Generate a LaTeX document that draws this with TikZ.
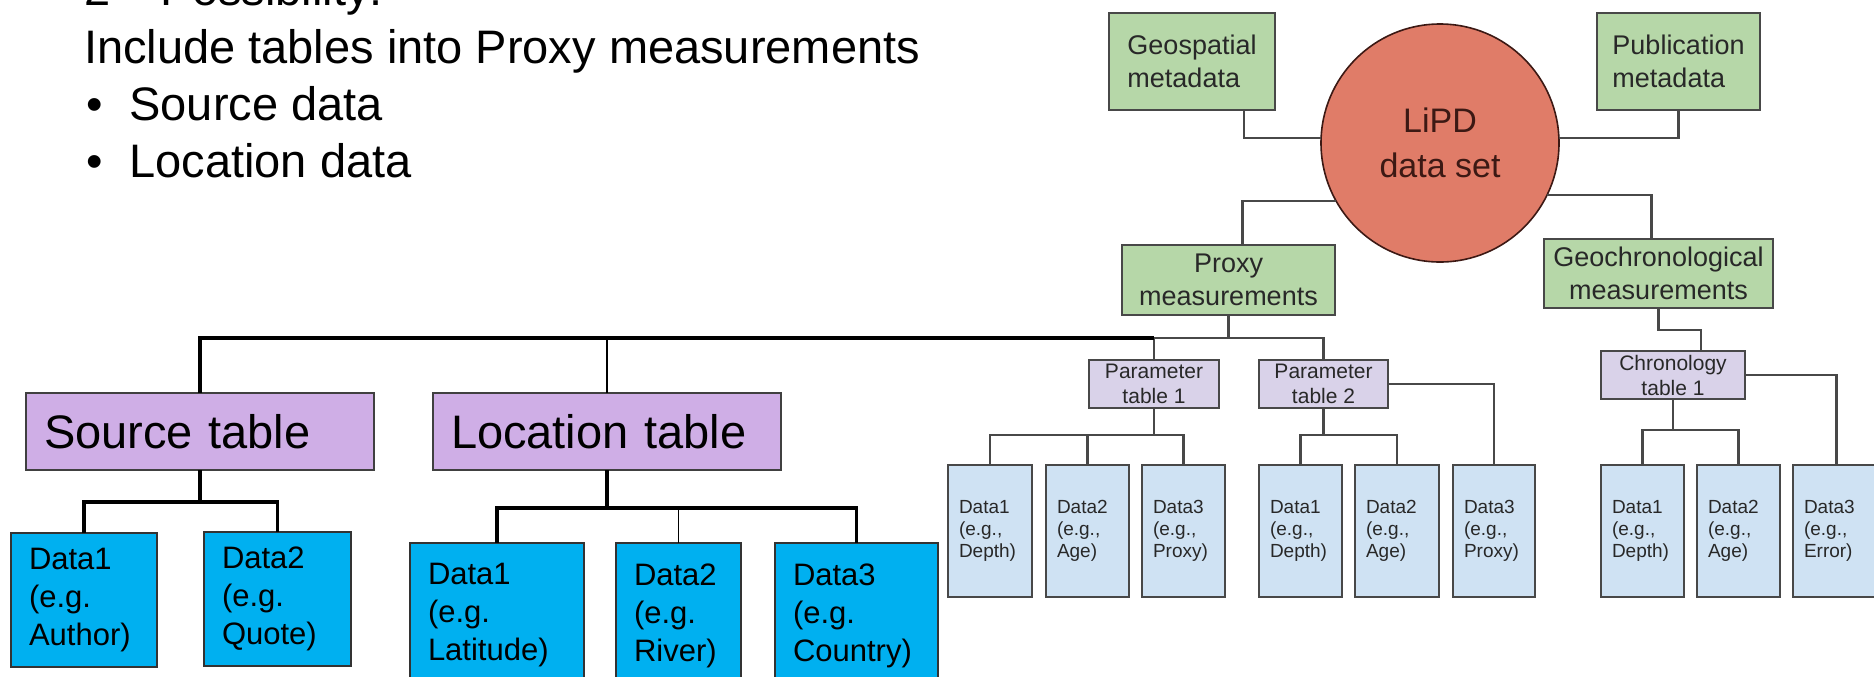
\documentclass[tikz,border=0pt]{standalone}
\usepackage{fontspec}
\setmainfont{Liberation Sans}
\usetikzlibrary{calc}

\definecolor{lavbig}{RGB}{207,174,230}
\definecolor{skyb}{RGB}{0,176,240}
\definecolor{mgreen}{RGB}{182,215,168}
\definecolor{salmon}{RGB}{224,124,104}
\definecolor{ptab}{RGB}{217,210,233}
\definecolor{pblue}{RGB}{207,226,243}
\definecolor{lineg}{RGB}{72,72,72}
\definecolor{hubtext}{RGB}{60,25,20}
\definecolor{dtext}{RGB}{40,40,40}

% box from its corners (x1,y1)-(x2,y2), given in pixel units
\newcommand\bx[7]{%
  \pgfmathsetmacro\bxw{(#5-#3)*0.5}%
  \pgfmathsetmacro\bxh{(#6-#4)*0.5}%
  \pgfmathsetmacro\bxt{(#5-#3)*0.5-18}%
  \pgfmathsetmacro\bxu{(#5-#3)*0.5-11}%
  \node[#1, anchor=north west, minimum width=\bxw pt, minimum height=\bxh pt] (#2) at (#3,#4) {#7};}

\tikzset{
  base/.style={inner sep=0pt, outer sep=0pt},
  nohyph/.style={execute at begin node={\hyphenpenalty=10000\exhyphenpenalty=10000}},
  bigtab/.style={base, nohyph, draw=black!75, line width=0.6pt, fill=lavbig,
    font=\fontsize{23.5}{28}\selectfont, text width=\bxt pt, align=left},
  leaf/.style={base, nohyph, draw=black!80, line width=0.6pt, fill=skyb,
    font=\fontsize{15.5}{19}\selectfont, text width=\bxt pt, align=left},
  meta/.style={base, draw=lineg, line width=1.1pt, fill=mgreen, text=dtext,
    font=\fontsize{13.5}{16.5}\selectfont, align=left},
  meas/.style={meta, align=center},
  subtab/.style={base, draw=lineg, line width=1.1pt, fill=ptab, text=dtext,
    font=\fontsize{10.5}{12.5}\selectfont, align=center},
  cell/.style={base, nohyph, draw=lineg, line width=1.1pt, fill=pblue, text=dtext,
    font=\fontsize{9.5}{11}\selectfont, text width=\bxu pt, align=left},
  hub/.style={base, circle, draw=hubtext, line width=0.8pt, fill=salmon,
    minimum size=119pt, text=hubtext, font=\fontsize{17}{22.5}\selectfont, align=center},
  heading/.style={base, anchor=base west, font=\fontsize{23.5}{28}\selectfont},
  gline/.style={draw=lineg, line width=1.1pt},
  bline/.style={draw=black, line width=1.75pt},
  tline/.style={draw=black, line width=0.8pt},
}

\begin{document}
\begin{tikzpicture}[x=0.5pt, y=-0.5pt, line join=miter]
\useasboundingbox (0,0) rectangle (1874,676);
\clip (0,0) rectangle (1874,676);

% heading and bullet list
\node[heading] (h0) at (84,5) {2\textsuperscript{nd} Possibility:};
\node[heading] (h1) at (84,63) {Include tables into Proxy measurements};
\node[heading] (h2) at (86,120) {•\hspace{13.5pt}Source data};
\node[heading] (h3) at (86,177) {•\hspace{13.5pt}Location data};

% LiPD core structure
\node[hub] (lipd) at (1440,143) {LiPD\\data set};
\bx{meta}{geo}{1109}{13}{1275}{110}{Geospatial\\metadata}
\bx{meta}{pub}{1597}{13}{1760}{110}{Publication\\metadata}
\bx{meas}{prx}{1122}{245}{1335}{315}{Proxy\\measurements}
\bx{meas}{gch}{1544}{239}{1773}{308}{Geochronological\\measurements}

\bx{subtab}{p1}{1089}{360}{1219}{408}{Parameter\\table 1}
\bx{subtab}{p2}{1259}{360}{1388}{408}{Parameter\\table 2}
\bx{subtab}{ch}{1601}{351}{1745}{399}{Chronology\\table 1}

\bx{cell}{a1}{948}{465}{1032}{597}{Data1\\(e.g.,\\Depth)}
\bx{cell}{a2}{1046}{465}{1129}{597}{Data2\\(e.g.,\\Age)}
\bx{cell}{a3}{1142}{465}{1225}{597}{Data3\\(e.g.,\\Proxy)}
\bx{cell}{b1}{1259}{465}{1342}{597}{Data1\\(e.g.,\\Depth)}
\bx{cell}{b2}{1355}{465}{1439}{597}{Data2\\(e.g.,\\Age)}
\bx{cell}{b3}{1453}{465}{1535}{597}{Data3\\(e.g.,\\Proxy)}
\bx{cell}{c1}{1601}{465}{1684}{597}{Data1\\(e.g.,\\Depth)}
\bx{cell}{c2}{1697}{465}{1780}{597}{Data2\\(e.g.,\\Age)}
\bx{cell}{c3}{1793}{465}{1880}{597}{Data3\\(e.g.,\\Error)}

% added source and location tables
\bx{bigtab}{src}{26}{393}{374}{470}{Source table}
\bx{bigtab}{loc}{433}{393}{781}{470}{Location table}
\bx{leaf}{s1}{11}{533}{157}{667}{Data1\\(e.g.\\Author)}
\bx{leaf}{s2}{204}{532}{351}{666}{Data2\\(e.g.\\Quote)}
\bx{leaf}{l1}{410}{543}{584}{688}{Data1\\(e.g.\\Latitude)}
\bx{leaf}{l2}{616}{543}{741}{688}{Data2\\(e.g.\\River)}
\bx{leaf}{l3}{775}{543}{938}{688}{Data3\\(e.g.\\Country)}

% connectors around the data set
\draw[gline] ([xshift=26pt]geo.south) |- ([yshift=2.5pt]lipd.west);
\draw[gline] (pub.south) |- ([yshift=2.5pt]lipd.east);
\draw[gline] (lipd.209) -| ([xshift=7pt]prx.north);
\draw[gline] (lipd.334) -| ([xshift=-3.5pt]gch.north);

% proxy branch
\coordinate (pj) at ($(prx.south)+(0,23)$);
\draw[gline] (prx.south) -- (pj);
\draw[gline] (p1.north) |- (pj) -| (p2.north);

\coordinate (j1) at ($(p1.south)+(0,27)$);
\draw[gline] (p1.south) -- (j1);
\draw[gline] (a1.north) |- (j1) -| (a3.north);
\draw[gline] (a2.north) -- (a2.north |- j1);

\coordinate (j2) at ($(p2.south)+(0,27)$);
\draw[gline] (p2.south) -- (j2);
\draw[gline] (b1.north) |- (j2) -| (b2.north);
\draw[gline] (p2.east) -| (b3.north);

% chronology branch
\draw[gline] (gch.south) -- ++(0,22) -| ([xshift=14pt]ch.north);
\coordinate (j3) at ($(ch.south)+(0,31)$);
\draw[gline] (ch.south) -- (j3);
\draw[gline] (c1.north) |- (j3) -| (c2.north);
\draw[gline] (ch.east) -| (c3.north);

% new tables hooked onto the proxy branch
\draw[bline] (src.north) |- (p1.north |- pj);
\draw[tline] (loc.north) -- (loc.north |- pj);

\coordinate (sj) at ($(src.south)+(0,32)$);
\draw[bline] (src.south) -- (sj);
\draw[bline] (s1.north) |- (sj) -| (s2.north);

\coordinate (lj) at ($(loc.south)+(0,38)$);
\draw[bline] (loc.south) -- (lj);
\draw[bline] (l1.north) |- (lj) -| (l3.north);
\draw[tline] (l2.north) -- (l2.north |- lj);
\end{tikzpicture}
\end{document}
